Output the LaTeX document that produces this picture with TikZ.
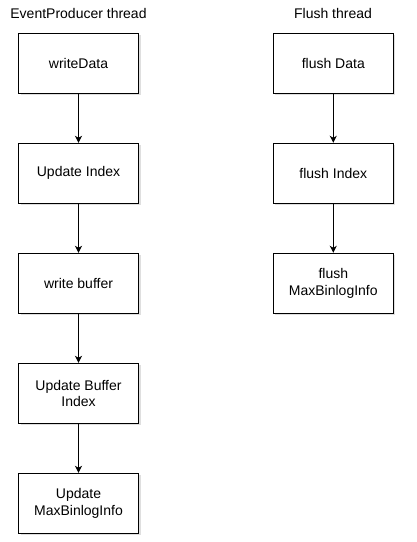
\documentclass[tikz,border=0pt]{standalone}
\usepackage{fontspec}
\setmainfont{Liberation Sans}
\usetikzlibrary{arrows.meta,shadows}
\begin{document}
\begin{tikzpicture}[x=1pt,y=-1pt,
  stepbox/.style={draw=black,line width=1pt,fill=white,minimum width=120pt,minimum height=60pt,
    align=center,inner sep=2pt,font=\fontsize{14pt}{16.5pt}\selectfont,
    drop shadow={shadow xshift=2pt,shadow yshift=-2pt,opacity=0.25,fill=gray}},
  title/.style={font=\fontsize{14pt}{16.5pt}\selectfont,inner sep=0pt},
  flow/.style={draw=black,line width=1pt,-{Stealth[length=7pt,width=7pt,inset=2pt]}}]
\useasboundingbox (0,0) rectangle (417,542);
\node[title] (t1) at (78.5,13.5) {EventProducer thread};
\node[title] (t2) at (333,13.5) {Flush thread};
\node[stepbox] (a1) at (78.5,63.3) {writeData};
\node[stepbox] (a2) at (78.5,173.3) {Update Index};
\node[stepbox] (a3) at (78.5,283.3) {write buffer};
\node[stepbox] (a4) at (78.5,393.3) {Update Buffer\\Index};
\node[stepbox] (a5) at (78.5,503.3) {Update\\MaxBinlogInfo};
\node[stepbox] (b1) at (333.3,63.3) {flush Data};
\node[stepbox] (b2) at (333.3,173.3) {flush Index};
\node[stepbox] (b3) at (333.3,283.3) {flush\\MaxBinlogInfo};
\draw[flow] (a1) -- (a2);
\draw[flow] (a2) -- (a3);
\draw[flow] (a3) -- (a4);
\draw[flow] (a4) -- (a5);
\draw[flow] (b1) -- (b2);
\draw[flow] (b2) -- (b3);
\end{tikzpicture}
\end{document}
